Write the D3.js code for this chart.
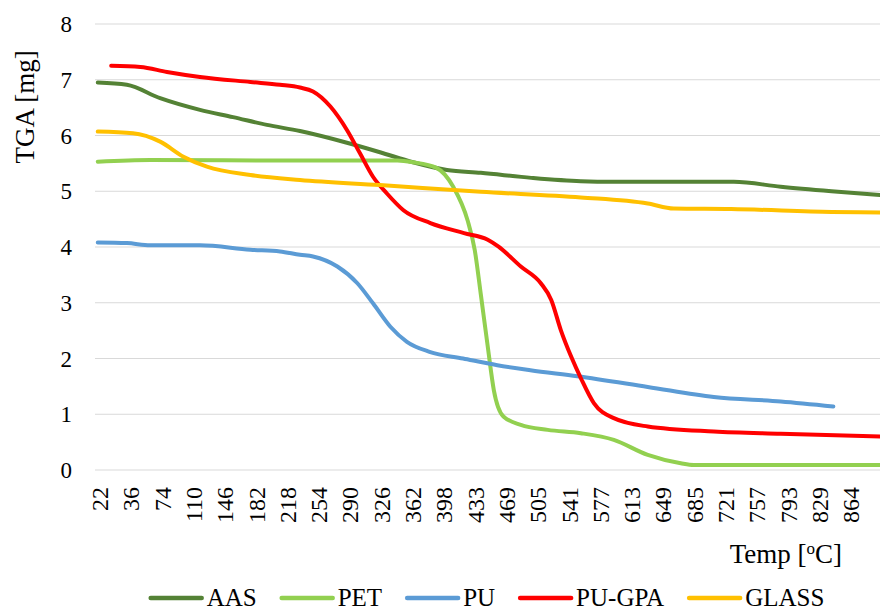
<!DOCTYPE html>
<html>
<head>
<meta charset="utf-8">
<script src="https://cdn.jsdelivr.net/npm/d3@7"></script>
<style>
  body { margin: 0; background: #fff; }
</style>
</head>
<body>
<svg width="880" height="611"></svg>
<script>
// category labels on the temperature axis
var tickTemps = [22, 36, 74, 110, 146, 182, 218, 254, 290, 326, 362, 398, 433, 469, 505, 541, 577, 613, 649, 685, 721, 757, 793, 829, 864];
var yTicks = [0, 1, 2, 3, 4, 5, 6, 7, 8];

// series (temperature in °C, mass in mg)
var aasTemp = [21, 34, 71, 117, 155, 194, 232, 286, 324, 362, 401, 439, 497, 554, 592, 730, 784, 842, 898];
var aasMass = [6.95, 6.91, 6.67, 6.46, 6.33, 6.19, 6.08, 5.87, 5.70, 5.52, 5.38, 5.33, 5.24, 5.18, 5.17, 5.17, 5.08, 5.00, 4.93];

var petTemp = [21, 59, 232, 344, 362, 389, 408, 424, 432, 439, 447, 454, 465, 485, 516, 554, 592, 631, 669, 684, 898];
var petMass = [5.53, 5.56, 5.55, 5.55, 5.52, 5.42, 5.08, 4.48, 3.95, 3.15, 2.21, 1.43, 0.96, 0.81, 0.72, 0.66, 0.54, 0.27, 0.12, 0.09, 0.09];

var puTemp = [21, 34, 59, 117, 175, 209, 232, 247, 275, 298, 316, 336, 355, 381, 419, 458, 496, 550, 631, 707, 784, 844];
var puMass = [4.08, 4.07, 4.03, 4.03, 3.95, 3.92, 3.86, 3.83, 3.65, 3.35, 2.99, 2.57, 2.30, 2.12, 2.00, 1.88, 1.79, 1.68, 1.49, 1.31, 1.23, 1.14];

var gpaTemp = [27, 47, 79, 117, 175, 209, 232, 247, 267, 286, 301, 316, 332, 351, 382, 420, 447, 459, 485, 508, 520, 531, 543, 554, 569, 592, 631, 707, 784, 898];
var gpaMass = [7.25, 7.23, 7.14, 7.05, 6.96, 6.91, 6.86, 6.79, 6.52, 6.10, 5.68, 5.26, 4.96, 4.66, 4.43, 4.25, 4.13, 4.01, 3.65, 3.35, 3.05, 2.51, 2.03, 1.65, 1.20, 0.93, 0.78, 0.69, 0.65, 0.60];

var glassTemp = [21, 38, 71, 98, 125, 175, 232, 324, 439, 554, 631, 661, 727, 842, 898];
var glassMass = [6.07, 6.04, 5.89, 5.62, 5.44, 5.29, 5.20, 5.11, 4.99, 4.89, 4.78, 4.69, 4.68, 4.63, 4.62];

var seriesNames = ["AAS", "PET", "PU", "PU-GPA", "GLASS"];
var seriesColors = ["#548235", "#92d050", "#5b9bd5", "#ff0000", "#ffc000"];

var FONT = "'Liberation Serif'";
var svg = d3.select("svg");
var plotLeft = 95, plotRight = 880, firstTick = 100, step = 31.3;

// category axis: each label sits one step apart, so map temperature piecewise
var x = d3.scaleLinear()
    .domain(tickTemps)
    .range(tickTemps.map(function (d, i) { return firstTick + i * step; }));
var y = d3.scaleLinear().domain([0, 8]).range([470, 24]);

// gridlines
svg.append("g")
    .selectAll("line")
    .data(yTicks)
    .join("line")
    .attr("x1", plotLeft).attr("x2", plotRight)
    .attr("y1", function (d) { return y(d); })
    .attr("y2", function (d) { return y(d); })
    .attr("stroke", "#d9d9d9")
    .attr("stroke-width", 1.2);

// y tick labels
svg.append("g")
    .selectAll("text")
    .data(yTicks)
    .join("text")
    .attr("x", 72)
    .attr("y", function (d) { return y(d) + 8; })
    .attr("text-anchor", "end")
    .style("font-family", FONT)
    .style("font-size", "23px")
    .text(function (d) { return d; });

// x tick labels (rotated)
svg.append("g")
    .selectAll("text")
    .data(tickTemps)
    .join("text")
    .attr("transform", function (d) { return "translate(" + (x(d) + 8) + ",487) rotate(-90)"; })
    .attr("text-anchor", "end")
    .style("font-family", FONT)
    .style("font-size", "24px")
    .text(function (d) { return d; });

// axis titles
svg.append("text")
    .attr("transform", "translate(34,107) rotate(-90)")
    .attr("text-anchor", "middle")
    .style("font-family", FONT)
    .style("font-size", "27px")
    .text("TGA [mg]");

var xt = svg.append("text")
    .attr("x", 842).attr("y", 563)
    .attr("text-anchor", "end")
    .style("font-family", FONT)
    .style("font-size", "27px");
xt.append("tspan").text("Temp [");
xt.append("tspan").attr("dy", -9).style("font-size", "17px").text("o");
xt.append("tspan").attr("dy", 9).text("C]");

// lines
var series = [
    { name: "AAS", temp: aasTemp, mass: aasMass },
    { name: "PET", temp: petTemp, mass: petMass },
    { name: "PU", temp: puTemp, mass: puMass },
    { name: "PU-GPA", temp: gpaTemp, mass: gpaMass },
    { name: "GLASS", temp: glassTemp, mass: glassMass }
];

var line = d3.line()
    .x(function (d) { return x(d[0]); })
    .y(function (d) { return y(d[1]); })
    .curve(d3.curveMonotoneX);

svg.append("g")
    .selectAll("path")
    .data(series)
    .join("path")
    .attr("fill", "none")
    .attr("stroke", function (d, i) { return seriesColors[i]; })
    .attr("stroke-width", 4)
    .attr("stroke-linejoin", "round")
    .attr("stroke-linecap", "round")
    .attr("d", function (d) { return line(d3.zip(d.temp, d.mass)); });

// legend, laid out from measured text widths and centred under the plot
var legend = svg.append("g");
var items = legend.selectAll("g")
    .data(seriesNames)
    .join("g");
items.append("line")
    .attr("x1", 0).attr("x2", 51)
    .attr("y1", -8).attr("y2", -8)
    .attr("stroke", function (d, i) { return seriesColors[i]; })
    .attr("stroke-width", 4.5)
    .attr("stroke-linecap", "round");
items.append("text")
    .attr("x", 56).attr("y", 0)
    .style("font-family", FONT)
    .style("font-size", "25px")
    .text(function (d) { return d; });

var offsets = [], pos = 0;
items.each(function () {
    offsets.push(pos);
    pos += 56 + this.querySelector("text").getComputedTextLength() + 25;
});
var total = pos - 25;
var start = (plotLeft + plotRight) / 2 - total / 2;
items.attr("transform", function (d, i) { return "translate(" + (start + offsets[i]) + ",606)"; });
</script>
</body>
</html>
